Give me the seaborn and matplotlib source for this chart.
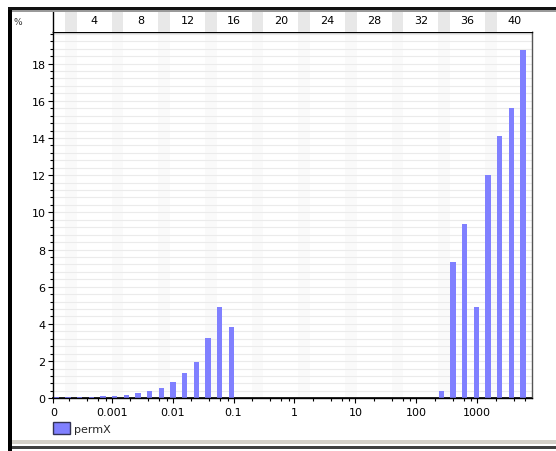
import numpy as np
import pandas as pd
import matplotlib
matplotlib.use("Agg")
import matplotlib.pyplot as plt
from matplotlib.patches import Rectangle
import seaborn as sns

# ---- histogram of permX (log-spaced bins) ----
perm_min = 0.00011
perm_max = 7830.0
n_bins = 41
bin_no = list(range(1, n_bins + 1))
pct = [0.07, 0.07, 0.05, 0.07, 0.12, 0.12, 0.19, 0.29, 0.40, 0.57,
       0.90, 1.34, 1.96, 3.25, 4.92, 3.86,
       0, 0, 0, 0, 0, 0, 0, 0, 0, 0, 0, 0, 0, 0, 0, 0, 0,
       0.38, 7.31, 9.37, 4.90, 12.0, 14.08, 15.6, 18.72]
x_tick_vals = [perm_min, 0.001, 0.01, 0.1, 1, 10, 100, 1000]
x_tick_labels = ["0", "0.001", "0.01", "0.1", "1", "10", "100", "1000"]
top_labels = list(range(4, 41, 4))
series_name = "permX"

BAR = "#8080ff"
W, H = 556, 452

sns.set_theme(style="white")
plt.rcParams["font.family"] = ["DejaVu Sans"]
FS = 8

df = pd.DataFrame({"bin": bin_no, "pct": pct})

fig = plt.figure(figsize=(W / 100, H / 100), dpi=100)
fig.patch.set_facecolor("white")

def fx(px):
    return px / W

def fy(py):
    return 1 - py / H

L0, R0, T0, B0 = 53.3, 531.7, 33.0, 399.3
ax = fig.add_axes([fx(L0), fy(B0), fx(R0 - L0), (B0 - T0) / H])

# bins: bar k sits at the left side of its bin [k - off, k - off + 1]
off = 0.255
xlo, xhi = 1 - off, n_bins + 1 - off

for k in bin_no:
    if k % 4 == 2:
        ax.axvspan(k - off, k - off + 1, color="#fafafa", zorder=0, lw=0)

sns.barplot(data=df, x="bin", y="pct", native_scale=True, width=0.45,
            color=BAR, saturation=1, linewidth=0, label=series_name, ax=ax)

ax.set_xlim(xlo, xhi)
ax.set_ylim(0, 19.7)
ax.set_xlabel("")
ax.set_ylabel("")
ax.set_yticks(np.arange(0, 19, 2))
ax.set_yticks(np.arange(0, 19.7, 0.4), minor=True)
ax.yaxis.grid(True, which="both", color="#ebebeb", lw=0.8)
ax.xaxis.grid(False)
ax.set_axisbelow(True)
ax.tick_params(axis="x", bottom=False, labelbottom=False)
ax.tick_params(axis="y", which="major", left=True, length=3.6, width=0.8,
               color="black", pad=2, labelsize=FS, labelcolor="black")
ax.tick_params(axis="y", which="minor", left=True, length=2, width=0.8,
               color="black")
for s in ["left", "bottom", "top"]:
    ax.spines[s].set_color("black")
    ax.spines[s].set_linewidth(1)
ax.spines["right"].set_color("#555555")
ax.spines["right"].set_linewidth(1)

# log-valued axis along the bottom, mapped from bin positions
lg0 = np.log10(perm_min)
dw = (np.log10(perm_max) - lg0) / n_bins

def to_perm(p):
    return 10 ** (lg0 + (np.asarray(p, dtype=float) - xlo) * dw)

def to_bin(v):
    v = np.clip(np.asarray(v, dtype=float), 1e-12, None)
    return (np.log10(v) - lg0) / dw + xlo

sec = ax.secondary_xaxis("bottom", functions=(to_perm, to_bin))
sec.set_xticks(x_tick_vals, labels=x_tick_labels)
minor = [m * 10.0 ** e for e in range(-4, 4) for m in (2, 4, 6, 8)
         if perm_min < m * 10.0 ** e < perm_max]
sec.set_xticks(minor, minor=True)
sec.tick_params(axis="x", which="major", length=3.6, width=0.8, color="black",
                pad=2.5, labelsize=FS, labelcolor="black")
sec.tick_params(axis="x", which="minor", length=2.2, width=0.8, color="black")
sec.spines["bottom"].set_color("black")

# bin-number strip above the plot
T1 = 13.0
axb = fig.add_axes([fx(L0), fy(T0), fx(R0 - L0), (T0 - T1) / H])
axb.set_xlim(xlo, xhi)
axb.set_ylim(0, 1)
for k in bin_no:
    if k % 4 == 2:
        axb.axvspan(k - off, k - off + 1, color="#e8e8e8", lw=0)
for s in ["top", "right", "bottom"]:
    axb.spines[s].set_visible(False)
axb.spines["left"].set_color("black")
axb.spines["left"].set_linewidth(1)
axb.set_yticks([])
axb.set_xticks([k - off for k in top_labels], labels=[])
axb.set_xticks([k - off for k in bin_no[1:]], minor=True)
axb.tick_params(axis="x", which="major", direction="in", length=3.6,
                width=0.8, color="black")
axb.tick_params(axis="x", which="minor", direction="in", length=1.8,
                width=0.8, color="black")
for k in top_labels:
    axb.text(k - off + 0.5, 0.6, str(k), ha="center", va="center",
             fontsize=FS, color="black")

fig.text(fx(18), fy(22.5), "%", fontsize=6.5, ha="center", va="center",
         color="#333333")

# legend below the axis
leg = ax.legend(loc="upper left", bbox_to_anchor=(fx(53), fy(423)),
                bbox_transform=fig.transFigure, frameon=False,
                fontsize=FS, handlelength=1.55, handleheight=1.25,
                handletextpad=0.3, borderpad=0, borderaxespad=0)
for h in leg.legend_handles:
    h.set_edgecolor("#333355")
    h.set_linewidth(1)

# window frame
def rect(x0, y0, x1, y1, c):
    fig.add_artist(Rectangle((fx(x0), fy(y1)), fx(x1 - x0), (y1 - y0) / H,
                             transform=fig.transFigure, color=c, lw=0,
                             zorder=10))

rect(8.3, 8.3, 11.7, 452, "#000000")
rect(8.3, 8.3, 556, 10.7, "#111111")
rect(11.7, 10.7, 556, 12.7, "#9a9a9a")
rect(11.7, 440.7, 556, 445, "#d4d0c8")
rect(11.7, 446.5, 556, 450, "#404040")

fig.savefig("out.png", dpi=100)
